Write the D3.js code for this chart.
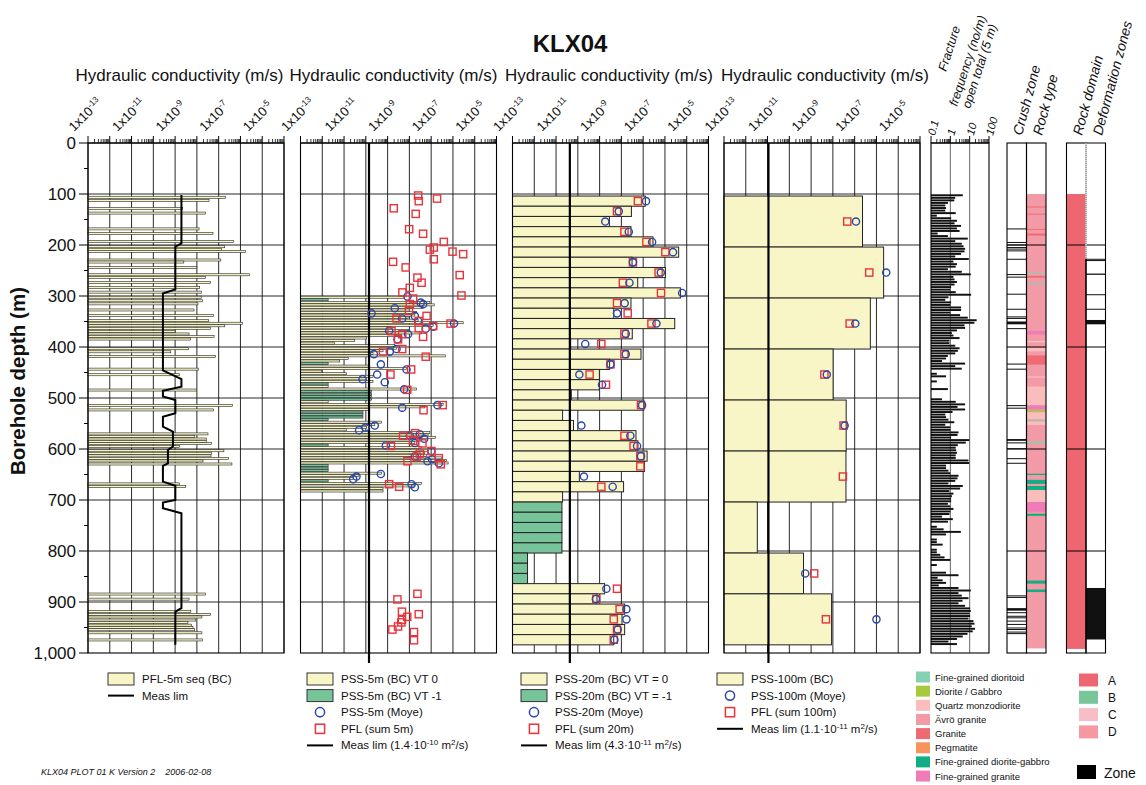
<!DOCTYPE html>
<html>
<head>
<meta charset="utf-8">
<script src="https://cdn.jsdelivr.net/npm/d3@7"></script>
<style>
  body { margin: 0; background: #fff; }
  svg { display: block; }
  text { font-family: "Liberation Sans", Arial, Helvetica, sans-serif; fill: #111; }
</style>
</head>
<body>
<svg id="chart" width="1146" height="785"></svg>
<script>
// ---------------- data ----------------
const depthTicks = [0, 100, 200, 300, 400, 500, 600, 700, 800, 900, 1000];
const kTickExponents = [-13, -11, -9, -7, -5];
const fracTicks = [0.1, 1, 10, 100];

// PFL-5m sequential sections: top depth (m) and log10 K (m/s)
const pfl5Top = [104,110,126,135,166,175,191,201,206,210,227,231,242,256,261,271,281,290,300,307,313,325,336,346,351,356,361,367,372,377,382,401,407,416,441,452,482,512,521,568,573,578,583,587,593,601,606,611,616,621,627,666,671,882,892,916,922,927,933,938,943,948,952,958,972];
const pfl5LogK = [-6.68,-7.44,-8.65,-7.6,-7.9,-7.26,-6.31,-6.72,-6.87,-5.76,-6.9,-8.6,-8.0,-5.58,-7.6,-7.37,-7.87,-7.8,-7.8,-7.75,-7.95,-8.13,-7.23,-7.46,-5.91,-6.72,-7.37,-9.0,-8.36,-7.21,-8.3,-8.38,-9.2,-7.14,-7.92,-8.79,-8.02,-6.37,-7.23,-7.49,-8.1,-7.57,-7.57,-7.33,-8.79,-6.76,-7.33,-7.35,-6.54,-7.72,-6.39,-8.79,-8.51,-7.6,-8.36,-8.28,-7.37,-7.77,-8.05,-8.41,-8.25,-8.18,-8.1,-7.77,-7.75];
// PFL measurement limit along the hole: depth (m), log10 K
const pfl5LimDepth = [102,197,203,287,295,446,463,478,486,497,504,530,537,556,566,595,602,628,633,664,672,700,705,716,726,912,919,984];
const pfl5LimLogK = [-8.71,-8.71,-8.99,-8.99,-9.56,-9.56,-8.71,-8.71,-9.56,-9.56,-8.99,-8.99,-9.56,-9.56,-9.1,-9.1,-9.33,-9.33,-9.56,-9.56,-8.99,-8.99,-9.56,-9.56,-8.71,-8.71,-8.99,-8.99];

// PSS 5 m sections: top depth (m), log10 K, value type (0 / -1)
const pss5Top = [300,305,310,315,320,325,330,335,340,345,350,355,360,365,370,375,380,385,390,395,400,405,410,415,420,425,430,435,440,445,450,455,460,465,470,475,480,485,490,495,500,505,510,515,520,525,530,535,540,545,550,555,560,565,570,575,580,585,590,595,600,605,610,615,620,625,630,635,640,645,650,655,660,665,670,675,680];
const pss5LogK = [-8.21,-11.73,-7.06,-6.86,-7.37,-7.98,-7.67,-7.75,-8.06,-7.6,-5.53,-6.91,-8.82,-7.98,-7.44,-8.36,-9.97,-10.51,-11.43,-8.67,-8.59,-9.21,-9.67,-6.34,-10.81,-11.2,-11.73,-9.82,-8.13,-12.04,-10.89,-9.67,-9.97,-9.67,-11.73,-11.73,-7.67,-9.74,-9.74,-9.74,-9.74,-11.73,-6.45,-7.29,-9.82,-10.13,-10.13,-10.13,-11.73,-9.28,-9.59,-9.97,-10.89,-7.06,-7.14,-6.8,-7.44,-7.75,-11.73,-7.44,-7.14,-7.29,-7.21,-6.53,-6.3,-6.22,-11.73,-11.73,-11.73,-9.28,-10.35,-10.58,-11.73,-7.44,-7.75,-9.21,-9.21];
const pss5VT = [0,-1,0,0,0,0,0,0,0,0,0,0,0,0,0,0,0,0,0,0,0,0,0,0,0,0,-1,0,0,0,0,0,0,0,-1,0,0,-1,-1,-1,-1,0,0,0,0,-1,-1,-1,-1,0,0,0,0,0,0,0,0,0,-1,0,0,0,0,0,0,0,-1,-1,-1,0,0,0,-1,0,0,0,0];
// PSS 5 m, Moye evaluation: depth (m), log10 K
const pss5MoyeDepth = [301,313,316,324,334,339,344,349,354,360,364,368,375,385,404,409,414,434,444,454,463,469,483,514,519,554,558,563,571,574,580,588,593,604,615,620,624,628,649,654,659,669,675];
const pss5MoyeLogK = [-8.09,-7.48,-7.37,-8.67,-9.74,-7.75,-8.33,-7.6,-5.95,-6.91,-7.25,-8.93,-8.06,-8.55,-8.59,-8.9,-9.63,-9.31,-8.13,-9.48,-10.15,-9.13,-8.24,-6.71,-8.33,-9.59,-10.02,-10.31,-7.52,-7.98,-7.32,-7.75,-9.08,-6.99,-7.75,-6.96,-7.17,-6.65,-9.31,-10.43,-10.58,-7.9,-7.75];
// PFL summed over 5 m: depth (m), log10 K
const pflSum5Depth = [103,109,114,128,139,169,178,194,205,209,213,218,228,233,244,259,264,274,284,293,299,305,316,329,339,344,349,354,359,363,369,375,380,385,404,409,419,444,454,484,514,524,569,574,584,589,594,604,609,615,618,624,630,669,674,884,895,919,924,929,935,940,948,954,959,975];
const pflSum5LogK = [-7.6,-6.73,-7.57,-8.72,-7.71,-8.01,-7.37,-6.42,-6.88,-7.06,-6.02,-5.53,-6.88,-8.75,-8.17,-5.69,-7.63,-7.44,-7.98,-8.32,-5.61,-7.83,-7.98,-8.02,-7.21,-8.59,-7.57,-6.11,-6.91,-7.57,-8.82,-8.33,-7.37,-8.52,-8.33,-9.21,-7.25,-7.92,-8.87,-8.1,-6.47,-7.35,-7.74,-8.29,-7.83,-7.4,-8.85,-6.99,-7.52,-7.66,-6.65,-8.09,-6.56,-8.93,-8.47,-7.63,-8.55,-8.34,-7.57,-8.1,-8.34,-8.37,-8.52,-8.78,-7.79,-7.79];

// PSS 20 m sections
const pss20Top = [104,124,144,164,184,204,224,244,264,284,304,324,344,364,384,404,424,444,464,484,504,524,544,564,584,604,624,644,664,684,704,724,744,764,784,804,824,844,864,884,904,924,944,964];
const pss20LogK = [-6.90,-7.54,-8.55,-7.56,-6.55,-5.37,-7.51,-5.98,-7.25,-5.29,-7.56,-8.35,-5.55,-7.5,-10.33,-7.1,-8.54,-9.01,-9.01,-10.3,-6.97,-10.7,-10.2,-7.33,-7.24,-6.82,-6.94,-9.93,-7.9,-10.7,-10.73,-10.73,-10.73,-10.73,-10.73,-12.31,-12.31,-12.31,-8.77,-9.12,-7.85,-7.97,-7.85,-8.35];
const pss20VT = [0,0,0,0,0,0,0,0,0,0,0,0,0,0,0,0,0,0,0,0,0,0,0,0,0,0,0,0,0,0,-1,-1,-1,-1,-1,-1,-1,-1,0,0,0,0,0,0];
const pss20Moye = [-6.87,-8.12,-8.74,-7.66,-6.59,-5.63,-7.47,-6.19,-7.63,-5.21,-7.85,-8.2,-6.39,-7.8,-9.66,-7.8,-8.5,-9.93,-8.89,null,-7.05,null,-9.84,-7.59,-7.28,-7.1,null,-9.72,-8.4,null,null,null,null,null,null,null,null,null,-8.69,-9.17,-7.77,-7.77,-8.17,-8.32];
const pflSum20 = [-7.24,-8.2,null,-7.86,-6.85,-5.98,-7.47,-6.29,-7.93,-6.18,-8.2,-7.71,-6.62,-7.86,-8.92,-7.86,-8.5,-9.46,-8.71,null,-7.1,null,null,-7.86,-7.44,-7.13,-7.13,null,-8.92,null,null,null,null,null,null,null,null,null,-8.2,-9.15,-8.08,-8.35,-8.2,-8.35];

// PSS 100 m sections
const pss100Top = [104,204,304,404,504,604,704,804,884];
const pss100Bottom = [204,304,404,504,604,704,804,884,984];
const pss100LogK = [-6.64,-5.67,-6.28,-7.99,-7.39,-7.40,-11.47,-9.35,-8.06];
const pss100Moye = [-6.94,-5.55,-6.97,-8.28,-7.46,null,null,-9.27,-6.0];
const pflSum100 = [-7.34,-6.33,-7.23,-8.39,-7.51,-7.54,null,-8.86,-8.32];

// measurement limits (m/s)
const measLim5 = 1.4e-10, measLim20 = 4.3e-11, measLim100 = 1.1e-11;

// open fracture frequency per 5 m: top depth (m), frequency (no/m)
const fracTop = [100,105,110,115,120,125,130,135,140,145,150,155,160,165,170,175,180,185,190,195,200,205,210,215,220,225,230,235,240,245,250,255,260,265,270,275,280,285,290,295,300,305,310,315,320,325,330,335,340,345,350,355,360,365,370,375,380,385,390,395,400,405,410,415,420,425,430,435,440,450,455,465,480,500,505,510,515,520,525,530,535,540,545,550,555,560,565,570,575,580,585,590,595,600,605,610,615,620,625,630,635,640,645,650,655,660,665,670,675,680,685,690,695,700,705,710,715,720,725,730,735,740,750,755,760,765,775,780,785,795,800,805,810,815,825,840,845,850,855,860,865,870,875,880,885,890,895,900,905,910,915,920,925,930,935,940,945,950,955,960,965,970,975,980];
const fracFreq = [4.4,1.8,1.6,0.75,0.55,0.6,0.55,1.9,0.2,1.1,2.2,1.65,3.6,2.2,3.0,0.22,0.75,8.0,1.8,3.9,4.8,5.8,5.4,3.6,1.8,9.0,1.45,2.2,1.9,0.75,3.9,11.4,1.45,1.65,2.2,1.65,1.1,1.0,1.9,11.9,0.8,0.55,1.1,1.0,3.6,3.6,1.0,3.2,8.0,23,17.6,5.4,5.8,2.2,1.2,1.45,3.0,0.9,0.9,1.8,3.0,2.45,1.8,0.75,0.6,0.37,5.8,1.8,3.9,0.2,0.6,0.2,0.75,0.37,1.9,5.8,2.35,5.8,1.3,0.55,0.6,0.8,1.6,0.55,1.0,1.0,2.65,2.35,1.1,9.7,6.3,2.45,1.9,2.0,2.2,1.9,1.9,8.7,9.4,0.6,0.6,0.8,1.0,2.65,2.35,1.8,0.8,4.4,3.2,0.9,1.45,1.2,1.1,1.1,0.75,1.0,1.45,1.0,0.9,0.37,1.35,0.75,0.2,0.45,3.5,0.6,0.2,0.2,0.4,0.2,0.2,0.3,0.5,1.0,0.2,0.6,2.65,0.22,0.4,0.6,0.25,2.65,11.4,2.65,3.9,8.7,4.25,2.65,5.8,10.5,11.4,9.7,10.5,8.7,15.6,17.6,12.8,19,14.4,7.7,4.4,2.2,0.8,2.2];

// crush zones: [from, to] depth (m)
const crushZones = [[167.5,168.5],[194,195],[199,200],[204,205],[207,208],[210.5,211.5],[227,228],[257,258],[262,263],[295.5,296.5],[325,326],[340,341],[343,344],[350,355.5],[363,364],[432.5,433.5],[442.5,443.5],[514,515],[519,520],[580.5,584],[587,588],[598.5,599.5],[618,619],[627,628],[887,888],[890,891],[912,917],[920,921],[927,928],[930,931],[936.5,937.5],[943,944],[950,951],[953,954],[958,959],[961,962]];

// rock types (legend order) and their colours
const rockTypes = ["Fine-grained dioritoid","Diorite / Gabbro","Quartz monzodiorite","Ävrö granite","Granite","Pegmatite","Fine-grained diorite-gabbro","Fine-grained granite"];
const rockColors = ["#86d0b4","#a7c93d","#f9bdbb","#f29aa5","#ef6b73","#f5945c","#13ad85","#ef7cb6"];
// rock type log: [from, to, rock type index]
const rockLog = [[100,991,3],[124.5,125.5,4],[138.5,139.5,4],[168.5,169.5,4],[177.5,181.5,4],[254,256,0],[260.5,264,4],[275,277,0],[368.5,375.5,7],[388,391,2],[402,408.5,2],[416.5,434.5,4],[457.5,460,2],[477.5,514.5,2],[514.5,522.5,7],[523,526.5,1],[528,542,2],[542.4,543.6,0],[546,553,2],[585.5,589,0],[648.5,651,6],[660.5,668.5,6],[672.5,680.5,6],[680.5,704,2],[704,723,7],[727,731,6],[858,864,6],[875.5,880.5,6]];

// rock domains and deformation zones
const domainNames = ["A","B","C","D"];
const domainColors = ["#ee6670","#79c69b","#f8bec6","#f598a1"];
const domainLog = [[100,992,0]];
const deformZones = [[227,228],[229.5,230.5],[256,258.5],[296.5,297.5],[325,326],[347,355.5],[872.5,973.5]];

// ---------------- drawing ----------------
const svg = d3.select("#chart");
const FILL_BC = "#f8f5c6", FILL_VT1 = "#77c49b", CIRC = "#2b47a8", SQR = "#e8333b";
const y = d3.scaleLinear().domain([0, 1000]).range([143, 653]);
const panelLefts = [88, 300.5, 512.5, 724];
const panelW = 196;
const xs = panelLefts.map(l => d3.scaleLog().domain([1e-13, 1e-4]).range([l, l + panelW]));
const decades = d3.range(-13, -3).map(e => Math.pow(10, e));
const K = v => Math.pow(10, v);

svg.append("text").attr("x", 570).attr("y", 52).attr("text-anchor", "middle")
  .attr("font-size", 24).attr("font-weight", "bold").text("KLX04");

const titleCenters = [179.5, 393.5, 609, 825];
titleCenters.forEach(cx => svg.append("text").attr("x", cx).attr("y", 81).attr("text-anchor", "middle")
  .attr("font-size", 17).text("Hydraulic conductivity (m/s)"));

// y axis title and labels
svg.append("text").attr("transform", "translate(25,381) rotate(-90)").attr("text-anchor", "middle")
  .attr("font-size", 20.5).attr("font-weight", "bold").text("Borehole depth (m)");
const yAxis = svg.append("g");
depthTicks.forEach(d => {
  yAxis.append("line").attr("x1", 79).attr("x2", 88).attr("y1", y(d)).attr("y2", y(d)).attr("stroke", "#000");
  yAxis.append("text").attr("x", 76).attr("y", y(d)).attr("dy", "0.36em").attr("text-anchor", "end")
    .attr("font-size", 17).text(d3.format(",")(d));
});
d3.range(50, 1000, 100).forEach(d => yAxis.append("line").attr("x1", 84).attr("x2", 88)
  .attr("y1", y(d)).attr("y2", y(d)).attr("stroke", "#000"));

function kPanel(i) {
  const x = xs[i];
  const g = svg.append("g");
  const grid = g.append("g").attr("stroke", "#111").attr("stroke-width", 0.9);
  decades.forEach(v => grid.append("line").attr("x1", x(v)).attr("x2", x(v)).attr("y1", y(0)).attr("y2", y(1000)));
  d3.range(100, 1000, 100).forEach(d => grid.append("line").attr("x1", x(1e-13)).attr("x2", x(1e-4)).attr("y1", y(d)).attr("y2", y(d)));
  return { g, x };
}

function topAxis(g, x, domainDecades, y0) {
  const ax = g.append("g").attr("stroke", "#000");
  ax.append("line").attr("x1", x.range()[0]).attr("x2", x.range()[1]).attr("y1", y0).attr("y2", y0).attr("stroke-width", 1.2);
  domainDecades.forEach((v, j) => {
    ax.append("line").attr("x1", x(v)).attr("x2", x(v)).attr("y1", y0 - 7).attr("y2", y0);
    if (j < domainDecades.length - 1) d3.range(2, 10).forEach(m => ax.append("line")
      .attr("x1", x(v * m)).attr("x2", x(v * m)).attr("y1", y0 - 4).attr("y2", y0).attr("stroke-width", 0.8));
  });
}

function kLabels(g, x) {
  kTickExponents.forEach(e => {
    const t = g.append("text").attr("transform", `translate(${x(K(e)) - 14},132) rotate(-45)`).attr("font-size", 13);
    t.append("tspan").text("1x10");
    t.append("tspan").attr("font-size", 8.5).attr("dy", -5).text(String(e));
  });
}

function circles(g, x, depths, vals) {
  g.append("g").selectAll("circle").data(d3.zip(depths, vals).filter(d => d[1] !== null)).join("circle")
    .attr("cx", d => x(K(d[1]))).attr("cy", d => y(d[0])).attr("r", 3.6)
    .attr("fill", "none").attr("stroke", CIRC).attr("stroke-width", 1.4);
}
function squares(g, x, depths, vals) {
  g.append("g").selectAll("rect").data(d3.zip(depths, vals).filter(d => d[1] !== null)).join("rect")
    .attr("x", d => x(K(d[1])) - 3.6).attr("y", d => y(d[0]) - 3.6).attr("width", 7.2).attr("height", 7.2)
    .attr("fill", "none").attr("stroke", SQR).attr("stroke-width", 1.4);
}
function frame(g, x0, x1) {
  g.append("rect").attr("x", x0).attr("y", y(0)).attr("width", x1 - x0).attr("height", y(1000) - y(0))
    .attr("fill", "none").attr("stroke", "#000").attr("stroke-width", 1.1);
}
function limLine(g, x, v) {
  g.append("line").attr("x1", x(v)).attr("x2", x(v)).attr("y1", y(0)).attr("y2", y(1000) + 10)
    .attr("stroke", "#000").attr("stroke-width", 2.2);
}

// panel 1: PFL-5m sequential
{
  const { g, x } = kPanel(0);
  g.append("g").selectAll("rect").data(d3.zip(pfl5Top, pfl5LogK)).join("rect")
    .attr("x", x(1e-13)).attr("y", d => y(d[0]) + 0.2).attr("width", d => x(K(d[1])) - x(1e-13))
    .attr("height", y(5) - y(0) - 0.5).attr("fill", FILL_BC).attr("stroke", "#222").attr("stroke-width", 0.6);
  const line = d3.line().x(d => x(K(d[1]))).y(d => y(d[0]));
  g.append("path").attr("d", line(d3.zip(pfl5LimDepth, pfl5LimLogK))).attr("fill", "none")
    .attr("stroke", "#000").attr("stroke-width", 2);
  frame(g, x(1e-13), x(1e-4));
  topAxis(g, x, decades, 143);
  kLabels(g, x);
}

// panel 2: PSS-5m
{
  const { g, x } = kPanel(1);
  g.append("g").selectAll("rect").data(d3.zip(pss5Top, pss5LogK, pss5VT)).join("rect")
    .attr("x", x(1e-13)).attr("y", d => y(d[0]) + 0.2).attr("width", d => x(K(d[1])) - x(1e-13))
    .attr("height", y(5) - y(0) - 0.5).attr("fill", d => d[2] === 0 ? FILL_BC : FILL_VT1)
    .attr("stroke", "#222").attr("stroke-width", 0.6);
  frame(g, x(1e-13), x(1e-4));
  limLine(g, x, measLim5);
  circles(g, x, pss5MoyeDepth, pss5MoyeLogK);
  squares(g, x, pflSum5Depth, pflSum5LogK);
  topAxis(g, x, decades, 143);
  kLabels(g, x);
}

// panel 3: PSS-20m
{
  const { g, x } = kPanel(2);
  g.append("g").selectAll("rect").data(d3.zip(pss20Top, pss20LogK, pss20VT)).join("rect")
    .attr("x", x(1e-13)).attr("y", d => y(d[0])).attr("width", d => x(K(d[1])) - x(1e-13))
    .attr("height", y(20) - y(0)).attr("fill", d => d[2] === 0 ? FILL_BC : FILL_VT1)
    .attr("stroke", "#222").attr("stroke-width", 1);
  frame(g, x(1e-13), x(1e-4));
  limLine(g, x, measLim20);
  const mid = pss20Top.map(t => t + 10);
  squares(g, x, mid, pflSum20);
  circles(g, x, mid, pss20Moye);
  topAxis(g, x, decades, 143);
  kLabels(g, x);
}

// panel 4: PSS-100m
{
  const { g, x } = kPanel(3);
  g.append("g").selectAll("rect").data(d3.zip(pss100Top, pss100Bottom, pss100LogK)).join("rect")
    .attr("x", x(1e-13)).attr("y", d => y(d[0])).attr("width", d => x(K(d[2])) - x(1e-13))
    .attr("height", d => y(d[1]) - y(d[0])).attr("fill", FILL_BC).attr("stroke", "#222").attr("stroke-width", 1);
  frame(g, x(1e-13), x(1e-4));
  limLine(g, x, measLim100);
  const mid = pss100Top.map((t, j) => (t + pss100Bottom[j]) / 2);
  squares(g, x, mid, pflSum100);
  circles(g, x, mid, pss100Moye);
  topAxis(g, x, decades, 143);
  kLabels(g, x);
}

// fracture frequency
{
  const xf = d3.scaleLog().domain([0.1, 100]).range([931, 989]);
  const g = svg.append("g");
  [1, 10].forEach(v => g.append("line").attr("x1", xf(v)).attr("x2", xf(v)).attr("y1", y(0)).attr("y2", y(1000))
    .attr("stroke", "#555").attr("stroke-width", 0.9));
  g.append("g").selectAll("rect").data(d3.zip(fracTop, fracFreq)).join("rect")
    .attr("x", xf(0.1)).attr("y", d => y(d[0]) + 0.3).attr("width", d => xf(d[1]) - xf(0.1))
    .attr("height", y(5) - y(0) - 0.6).attr("fill", "#111");
  frame(g, xf(0.1), xf(100));
  topAxis(g, xf, [0.1, 1, 10, 100], 143);
  fracTicks.forEach(v => g.append("text").attr("transform", `translate(${xf(v) + 4},136) rotate(-75)`)
    .attr("font-size", 11).attr("font-style", "italic").text(v));
  const lines = [["Fracture", 946, 72], ["frequency (no/m)", 957, 107], ["open total (5 m)", 970, 109]];
  lines.forEach(([t, tx, ty]) => g.append("text").attr("transform", `translate(${tx},${ty}) rotate(-72)`)
    .attr("font-size", 12.5).attr("font-style", "italic").text(t));
}

// crush zone / rock type / rock domain / deformation columns
{
  const g = svg.append("g");
  const cz = [1007, 1026.5], rt = [1026.5, 1046], rd = [1066.5, 1086], dz = [1086, 1105.5];
  const band = (x0, x1, from, to, fill) => g.append("rect").attr("x", x0).attr("width", x1 - x0)
    .attr("y", y(from)).attr("height", Math.max(1, y(to) - y(from))).attr("fill", fill);
  crushZones.forEach(([a, b]) => band(cz[0], cz[1], a, b, "#111"));
  rockLog.forEach(([a, b, k]) => band(rt[0], rt[1], a, b, rockColors[k]));
  domainLog.forEach(([a, b, k]) => band(rd[0], rd[1], a, b, domainColors[k]));
  deformZones.forEach(([a, b]) => band(dz[0], dz[1], a, b, "#111"));
  [200, 400, 600, 800].forEach(d => {
    g.append("line").attr("x1", cz[0]).attr("x2", rt[1]).attr("y1", y(d)).attr("y2", y(d)).attr("stroke", "#000");
    g.append("line").attr("x1", rd[0]).attr("x2", dz[1]).attr("y1", y(d)).attr("y2", y(d)).attr("stroke", "#000");
  });
  [cz, rt, rd].forEach(c => frame(g, c[0], c[1]));
  // deformation column: open upper part of its left edge is drawn dotted
  g.append("path").attr("d", `M${dz[0]},${y(227)}V${y(1000)}H${dz[1]}V${y(0)}H${dz[0]}`)
    .attr("fill", "none").attr("stroke", "#000").attr("stroke-width", 1.1);
  g.append("line").attr("x1", dz[0]).attr("x2", dz[0]).attr("y1", y(0)).attr("y2", y(227))
    .attr("stroke", "#fff").attr("stroke-width", 1.4);
  g.append("line").attr("x1", dz[0]).attr("x2", dz[0]).attr("y1", y(0)).attr("y2", y(227))
    .attr("stroke", "#666").attr("stroke-width", 0.8).attr("stroke-dasharray", "1,1");
  const heads = [["Crush zone", 1022], ["Rock type", 1042], ["Rock domain", 1082], ["Deformation zones", 1102]];
  heads.forEach(([t, tx]) => g.append("text").attr("transform", `translate(${tx},136) rotate(-75)`)
    .attr("font-size", 14).attr("font-style", "italic").text(t));
}

// ---------------- legends ----------------
function measText(sel, base, exp) {
  sel.append("tspan").text(`Meas lim (${base}·10`);
  sel.append("tspan").attr("font-size", 8).attr("dy", -4).text(exp);
  sel.append("tspan").attr("dy", 4).text(" m");
  sel.append("tspan").attr("font-size", 8).attr("dy", -4).text("2");
  sel.append("tspan").attr("dy", 4).text("/s)");
}
function legend(x0, items) {
  const g = svg.append("g");
  items.forEach((it, j) => {
    const cy = 679 + j * 16.6, cx = x0 + 13;
    if (it.kind === "box") g.append("rect").attr("x", x0).attr("y", cy - 6).attr("width", 26).attr("height", 12)
      .attr("fill", it.fill).attr("stroke", "#333").attr("stroke-width", 1);
    if (it.kind === "line") g.append("line").attr("x1", x0).attr("x2", x0 + 26).attr("y1", cy).attr("y2", cy)
      .attr("stroke", "#000").attr("stroke-width", 2);
    if (it.kind === "circle") g.append("circle").attr("cx", cx).attr("cy", cy).attr("r", 4.6)
      .attr("fill", "none").attr("stroke", CIRC).attr("stroke-width", 1.5);
    if (it.kind === "square") g.append("rect").attr("x", cx - 4.6).attr("y", cy - 4.6).attr("width", 9.2).attr("height", 9.2)
      .attr("fill", "none").attr("stroke", SQR).attr("stroke-width", 1.5);
    const t = g.append("text").attr("x", x0 + 34).attr("y", cy + 4).attr("font-size", 11.5);
    if (it.meas) measText(t, it.meas[0], it.meas[1]); else t.text(it.label);
  });
}
legend(108, [{ kind: "box", fill: FILL_BC, label: "PFL-5m seq (BC)" }, { kind: "line", label: "Meas lim" }]);
legend(307, [{ kind: "box", fill: FILL_BC, label: "PSS-5m (BC) VT 0" }, { kind: "box", fill: FILL_VT1, label: "PSS-5m (BC) VT -1" },
  { kind: "circle", label: "PSS-5m (Moye)" }, { kind: "square", label: "PFL (sum 5m)" }, { kind: "line", meas: ["1.4", "-10"] }]);
legend(521, [{ kind: "box", fill: FILL_BC, label: "PSS-20m (BC) VT = 0" }, { kind: "box", fill: FILL_VT1, label: "PSS-20m (BC) VT = -1" },
  { kind: "circle", label: "PSS-20m (Moye)" }, { kind: "square", label: "PFL (sum 20m)" }, { kind: "line", meas: ["4.3", "-11"] }]);
legend(717, [{ kind: "box", fill: FILL_BC, label: "PSS-100m (BC)" }, { kind: "circle", label: "PSS-100m (Moye)" },
  { kind: "square", label: "PFL (sum 100m)" }, { kind: "line", meas: ["1.1", "-11"] }]);

{
  const g = svg.append("g");
  rockTypes.forEach((name, j) => {
    const cy = 677 + j * 14.15;
    g.append("rect").attr("x", 916).attr("y", cy - 5.5).attr("width", 14).attr("height", 11).attr("fill", rockColors[j]);
    g.append("text").attr("x", 935).attr("y", cy + 3.5).attr("font-size", 9.5).text(name);
  });
  domainNames.forEach((name, j) => {
    const cy = 680 + j * 17.3;
    g.append("rect").attr("x", 1079).attr("y", cy - 6.5).attr("width", 19).attr("height", 13).attr("fill", domainColors[j]);
    g.append("text").attr("x", 1108).attr("y", cy + 4.5).attr("font-size", 12).text(name);
  });
  g.append("rect").attr("x", 1077).attr("y", 765).attr("width", 19).attr("height", 14).attr("fill", "#000");
  g.append("text").attr("x", 1104).attr("y", 778).attr("font-size", 14).text("Zone");
}

svg.append("text").attr("x", 41).attr("y", 775).attr("font-size", 9).attr("font-style", "italic")
  .attr("xml:space", "preserve").text("KLX04 PLOT 01 K Version 2    2006-02-08");
</script>
</body>
</html>
